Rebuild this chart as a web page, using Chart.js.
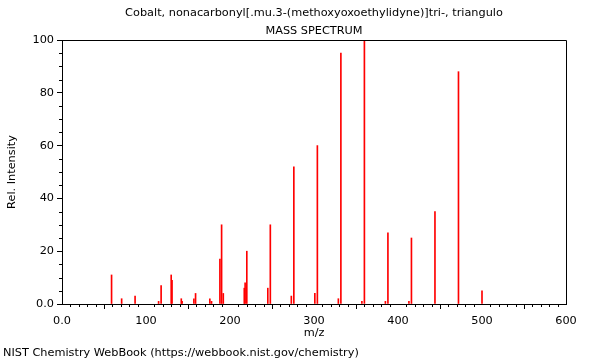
<!DOCTYPE html>
<html>
<head>
<meta charset="utf-8">
<script src="https://cdn.jsdelivr.net/npm/chart.js@4/dist/chart.umd.min.js"></script>
<style>
  html, body { margin: 0; padding: 0; background: #ffffff; }
  #wrap { width: 600px; height: 360px; position: relative; }
</style>
</head>
<body>
<div id="wrap"><canvas id="c" width="600" height="360"></canvas></div>
<script>
const titleLines = ['Cobalt, nonacarbonyl[.mu.3-(methoxyoxoethylidyne)]tri-, triangulo', 'MASS SPECTRUM'];
const footerText = 'NIST Chemistry WebBook (https://webbook.nist.gov/chemistry)';
const xAxisTitle = 'm/z';
const yAxisTitle = 'Rel. Intensity';

const mz = [59, 71, 87, 115, 118, 130, 131, 142, 143, 157, 159, 176, 178, 188, 190, 192,
            217, 218, 220, 245, 248, 273, 276, 301, 304, 329, 332, 357, 360, 385, 388,
            413, 416, 444, 472, 500];
const intensity = [11, 2, 3, 1, 7, 11, 9, 2, 1, 2, 4, 2, 1, 17, 30, 4,
                   6, 8, 20, 6, 30, 3, 52, 4, 60, 2, 95, 1, 100, 1, 27,
                   1, 25, 35, 88, 5];

const xTicks = [0, 100, 200, 300, 400, 500, 600];
const yTicks = [0, 20, 40, 60, 80, 100];

const FONT = '"DejaVu Sans", sans-serif';
const FS = 11.3;
const AXIS = '#000000';

const points = mz.map((m, i) => ({ x: m, y: intensity[i] }));

const framePlugin = {
  id: 'frame',
  afterDraw(chart) {
    const ctx = chart.ctx;
    const a = chart.chartArea;
    const xs = chart.scales.x, ys = chart.scales.y;
    ctx.save();
    ctx.strokeStyle = AXIS;
    ctx.lineWidth = 1;
    ctx.beginPath();
    ctx.rect(Math.round(a.left) + 0.5, Math.round(a.top) + 0.5,
             Math.round(a.right - a.left), Math.round(a.bottom - a.top));
    ctx.stroke();
    ctx.beginPath();
    for (let v = 0; v <= 600; v += 10) {
      if (v % 100 === 0) continue;
      const px = Math.round(xs.getPixelForValue(v)) + 0.5;
      ctx.moveTo(px, Math.round(a.bottom));
      ctx.lineTo(px, Math.round(a.bottom) + 3);
    }
    for (let v = 0; v <= 100; v += 5) {
      if (v % 20 === 0) continue;
      const py = Math.round(ys.getPixelForValue(v)) + 0.5;
      ctx.moveTo(Math.round(a.left), py);
      ctx.lineTo(Math.round(a.left) - 3, py);
    }
    ctx.stroke();
    ctx.fillStyle = '#000';
    ctx.font = FS + 'px ' + FONT;
    ctx.textAlign = 'center';
    ctx.textBaseline = 'middle';
    const cx = (a.left + a.right) / 2;
    ctx.fillText(titleLines[0], cx, 13);
    ctx.fillText(titleLines[1], cx, 31);
    ctx.textAlign = 'left';
    ctx.fillText(footerText, 3, 353);
    ctx.restore();
  }
};

new Chart(document.getElementById('c'), {
  type: 'bar',
  data: {
    datasets: [{
      data: points,
      backgroundColor: '#ff0000',
      borderWidth: 0,
      barThickness: 1,
      grouped: false
    }]
  },
  options: {
    responsive: false,
    animation: false,
    devicePixelRatio: 1,
    layout: { padding: { top: 40, right: 34, bottom: 20, left: 0 } },
    plugins: {
      legend: { display: false },
      tooltip: { enabled: false },
      title: { display: false }
    },
    scales: {
      x: {
        type: 'linear',
        min: 0, max: 600,
        offset: false,
        afterBuildTicks(scale) { scale.ticks = xTicks.map(v => ({ value: v })); },
        afterFit(scale) { scale.height = 36; },
        ticks: {
          color: '#000',
          font: { family: FONT, size: FS },
          padding: 5,
          maxRotation: 0,
          callback: v => (v === 0 ? '0.0' : String(v))
        },
        grid: { drawOnChartArea: false, tickLength: 5, color: AXIS, tickColor: AXIS },
        border: { display: true, color: AXIS },
        title: {
          display: true, text: xAxisTitle, color: '#000',
          font: { family: FONT, size: FS }, padding: { top: 0, bottom: 0 }
        }
      },
      y: {
        type: 'linear',
        min: 0, max: 100,
        afterBuildTicks(scale) { scale.ticks = yTicks.map(v => ({ value: v })); },
        afterFit(scale) { scale.width = 62; },
        ticks: {
          color: '#000',
          font: { family: FONT, size: FS },
          padding: 3,
          callback: v => (v === 0 ? '0.0' : String(v))
        },
        grid: { drawOnChartArea: false, tickLength: 5, color: AXIS, tickColor: AXIS },
        border: { display: true, color: AXIS },
        title: {
          display: true, text: yAxisTitle, color: '#000',
          font: { family: FONT, size: FS }, padding: { top: 5, bottom: 4 }
        }
      }
    }
  },
  plugins: [framePlugin]
});
</script>
</body>
</html>
